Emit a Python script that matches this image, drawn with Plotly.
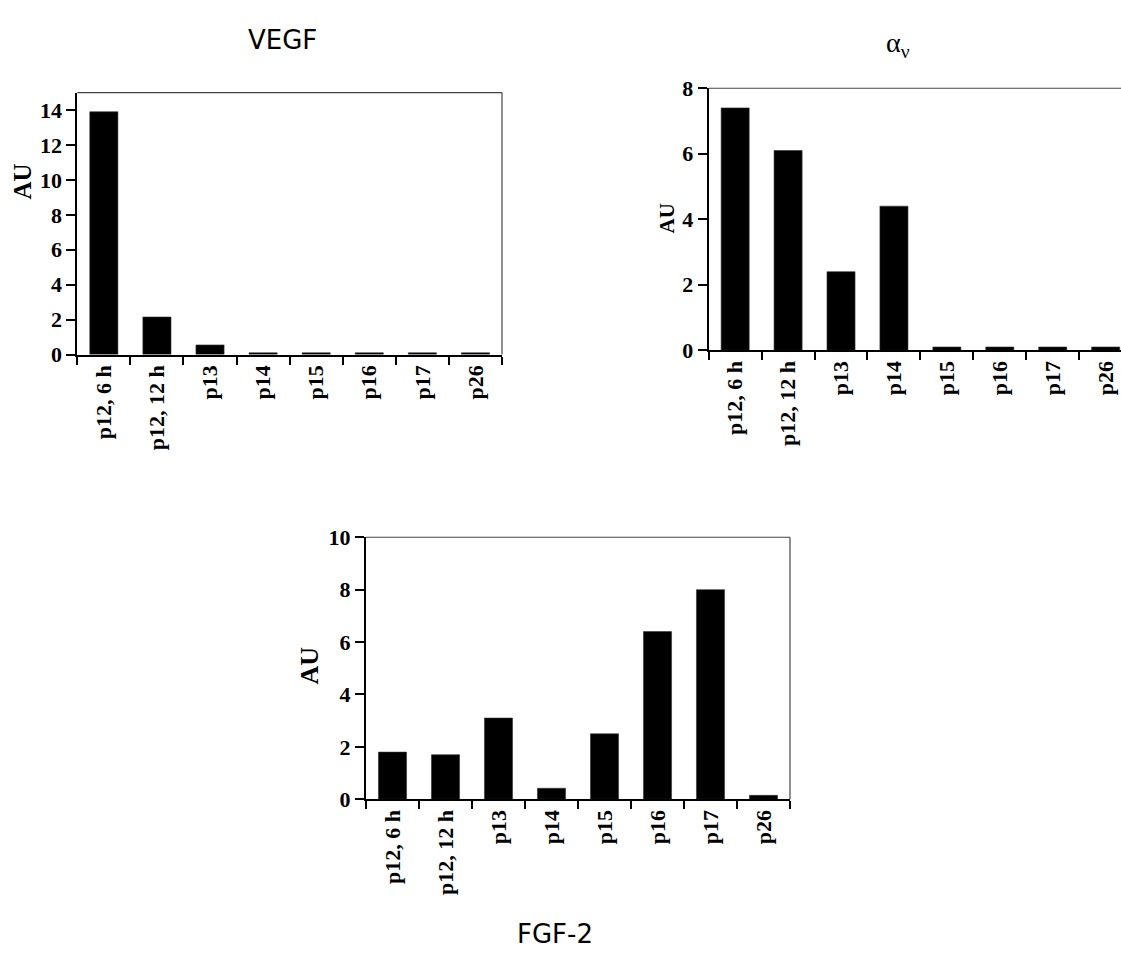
import plotly.graph_objects as go

W, H = 1121, 961

categories = ["p12, 6 h", "p12, 12 h", "p13", "p14", "p15", "p16", "p17", "p26"]
vegf_values = [13.9, 2.15, 0.55, 0.1, 0.1, 0.1, 0.1, 0.1]
alpha_values = [7.4, 6.1, 2.4, 4.4, 0.1, 0.1, 0.1, 0.1]
fgf_values = [1.8, 1.7, 3.1, 0.42, 2.5, 6.4, 8.0, 0.15]

vegf_ticks = [0, 2, 4, 6, 8, 10, 12, 14]
alpha_ticks = [0, 2, 4, 6, 8]
fgf_ticks = [0, 2, 4, 6, 8, 10]


def px(x):
    return x / W


def py(y):
    return 1 - y / H


SERIF = "Liberation Serif, Times New Roman, serif"
SANS = "DejaVu Sans, sans-serif"

fig = go.Figure()

panels = [
    ("x", "y", vegf_values),
    ("x2", "y2", alpha_values),
    ("x3", "y3", fgf_values),
]
for xa, ya, vals in panels:
    fig.add_trace(go.Bar(
        x=categories, y=vals, xaxis=xa, yaxis=ya, width=0.53,
        marker=dict(color="black", line=dict(color="#333", width=0.6)),
        showlegend=False,
    ))

ticklabels = ["<b>%s</b>" % c for c in categories]


def xaxis_cfg(domain, rng, anchor):
    return dict(
        domain=domain, anchor=anchor, type="category",
        range=rng, autorange=False,
        tickson="boundaries", ticks="outside", ticklen=8, tickwidth=1.5, tickcolor="black",
        showline=True, linewidth=2, linecolor="black",
        showgrid=False, zeroline=False,
        tickangle=-90, tickmode="array", tickvals=categories, ticktext=ticklabels,
        tickfont=dict(family=SERIF, size=22, color="black"),
    )


def yaxis_cfg(domain, rng, ticks, anchor):
    return dict(
        domain=domain, anchor=anchor, range=rng, autorange=False,
        tickmode="array", tickvals=ticks, ticktext=["<b>%d</b>" % t for t in ticks],
        ticks="outside", ticklen=9, tickwidth=1.5, tickcolor="black",
        showline=True, linewidth=2, linecolor="black",
        showgrid=False, zeroline=False,
        tickfont=dict(family=SERIF, size=22, color="black"),
    )


fig.update_layout(
    width=W, height=H,
    margin=dict(l=0, r=0, t=0, b=0),
    paper_bgcolor="white", plot_bgcolor="white",
    xaxis=xaxis_cfg([px(77.3), px(502)], [-0.5, 7.5], "y"),
    yaxis=yaxis_cfg([py(351.7), py(82.7)], [0, 15], vegf_ticks, "x"),
    xaxis2=xaxis_cfg([px(708.7), 1.0], [-0.5, 7.29], "y2"),
    yaxis2=yaxis_cfg([py(347.3), py(78.3)], [0, 8], alpha_ticks, "x2"),
    xaxis3=xaxis_cfg([px(366), px(790)], [-0.5, 7.5], "y3"),
    yaxis3=yaxis_cfg([py(808.3), py(539.3)], [0, 10], fgf_ticks, "x3"),
)

# thin top/right frame lines
border = dict(color="#444", width=1.2)
for xr, yr, right in [("x", "y", True), ("x2", "y2", False), ("x3", "y3", True)]:
    fig.add_shape(type="line", xref=xr + " domain", yref=yr + " domain",
                  x0=0, x1=1, y0=1, y1=1, line=border)
    if right:
        fig.add_shape(type="line", xref=xr + " domain", yref=yr + " domain",
                      x0=1, x1=1, y0=0, y1=1, line=border)

annotations = [
    dict(text="VEGF", x=px(282.5), y=py(29), font=dict(family=SANS, size=26, color="black")),
    dict(text="α<sub>ν</sub>", x=px(898), y=py(33), font=dict(family=SERIF, size=28, color="black")),
    dict(text="FGF-2", x=px(555), y=py(947), font=dict(family=SANS, size=26, color="black")),
    dict(text="<b>AU</b>", x=px(22), y=py(174), textangle=-90, font=dict(family=SERIF, size=25, color="black")),
    dict(text="<b>AU</b>", x=px(667), y=py(212), textangle=-90, font=dict(family=SERIF, size=21, color="black")),
    dict(text="<b>AU</b>", x=px(310), y=py(671), textangle=-90, font=dict(family=SERIF, size=26, color="black")),
]
for a in annotations:
    a.update(xref="paper", yref="paper", showarrow=False, xanchor="center", yanchor="middle")
    fig.add_annotation(**a)

fig.write_html("out.html")
